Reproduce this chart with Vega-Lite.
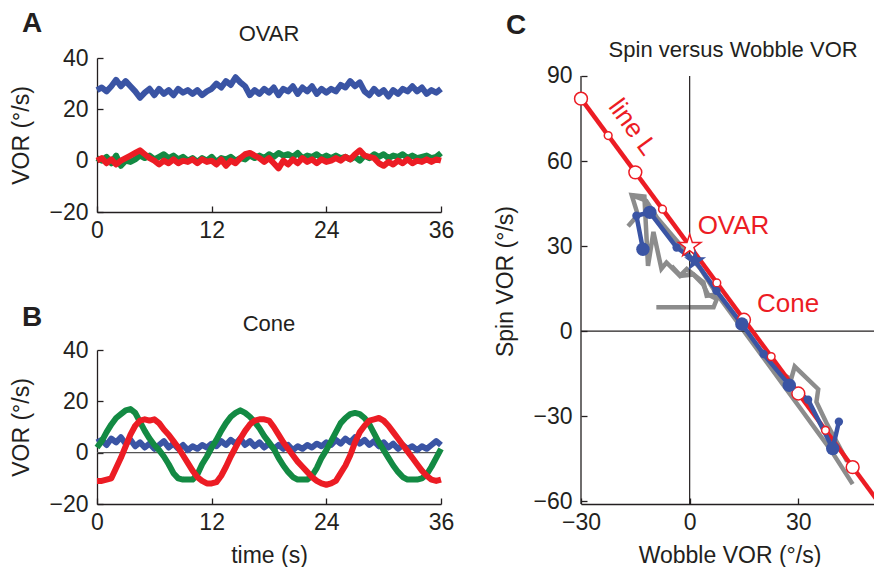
{
  "$schema": "https://vega.github.io/schema/vega-lite/v6.json",
  "padding": {"left": 10, "top": 10, "right": 0, "bottom": 0},
  "datasets": {
    "ovar": [
      {"t":0,"spin":27.5,"wobble1":1,"wobble2":0},{"t":0.5,"spin":28.5,"wobble1":0,"wobble2":1},{"t":1,"spin":27,"wobble1":1.5,"wobble2":-1},{"t":1.5,"spin":29,"wobble1":-1,"wobble2":0.5},
      {"t":2,"spin":31.5,"wobble1":2,"wobble2":-1.5},{"t":2.5,"spin":29,"wobble1":-2,"wobble2":0},{"t":3,"spin":31,"wobble1":0,"wobble2":1},{"t":3.5,"spin":29,"wobble1":-0.5,"wobble2":2},
      {"t":4,"spin":27,"wobble1":0.5,"wobble2":3},{"t":4.5,"spin":24.5,"wobble1":2,"wobble2":4},{"t":5,"spin":26.5,"wobble1":1,"wobble2":2.5},{"t":5.5,"spin":28,"wobble1":2,"wobble2":1},
      {"t":6,"spin":25.5,"wobble1":0.5,"wobble2":0},{"t":6.5,"spin":28,"wobble1":1.5,"wobble2":-1.5},{"t":7,"spin":26,"wobble1":2.5,"wobble2":0},{"t":7.5,"spin":27.5,"wobble1":1,"wobble2":-1},
      {"t":8,"spin":25.5,"wobble1":2,"wobble2":0.5},{"t":8.5,"spin":28,"wobble1":0.5,"wobble2":-1},{"t":9,"spin":26.5,"wobble1":1.5,"wobble2":0},{"t":9.5,"spin":27.5,"wobble1":0,"wobble2":-0.5},
      {"t":10,"spin":26,"wobble1":1,"wobble2":0.5},{"t":10.5,"spin":27.5,"wobble1":-0.5,"wobble2":-1},{"t":11,"spin":25.5,"wobble1":1,"wobble2":0.5},{"t":11.5,"spin":27,"wobble1":0,"wobble2":-0.5},
      {"t":12,"spin":28,"wobble1":1.5,"wobble2":0},{"t":12.5,"spin":30,"wobble1":-0.5,"wobble2":-1.5},{"t":13,"spin":28.5,"wobble1":1,"wobble2":0.5},{"t":13.5,"spin":31,"wobble1":0.5,"wobble2":-2},
      {"t":14,"spin":29.5,"wobble1":1.5,"wobble2":0},{"t":14.5,"spin":32.5,"wobble1":0,"wobble2":-1},{"t":15,"spin":30.5,"wobble1":1,"wobble2":1},{"t":15.5,"spin":29,"wobble1":0.5,"wobble2":2.5},
      {"t":16,"spin":25.5,"wobble1":2,"wobble2":3},{"t":16.5,"spin":27.5,"wobble1":1,"wobble2":2},{"t":17,"spin":26,"wobble1":2,"wobble2":1},{"t":17.5,"spin":28,"wobble1":1,"wobble2":-0.5},
      {"t":18,"spin":26.5,"wobble1":2.5,"wobble2":1},{"t":18.5,"spin":28.5,"wobble1":1.5,"wobble2":-1},{"t":19,"spin":25.5,"wobble1":3,"wobble2":-3},{"t":19.5,"spin":28,"wobble1":2,"wobble2":0},
      {"t":20,"spin":27,"wobble1":2.5,"wobble2":-1.5},{"t":20.5,"spin":29,"wobble1":1.5,"wobble2":0.5},{"t":21,"spin":26,"wobble1":3,"wobble2":-1},{"t":21.5,"spin":28.5,"wobble1":1,"wobble2":1},
      {"t":22,"spin":27,"wobble1":2,"wobble2":-0.5},{"t":22.5,"spin":29,"wobble1":1.5,"wobble2":0.5},{"t":23,"spin":26,"wobble1":2.5,"wobble2":-1},{"t":23.5,"spin":28,"wobble1":1,"wobble2":0.5},
      {"t":24,"spin":26.5,"wobble1":2,"wobble2":-0.5},{"t":24.5,"spin":28,"wobble1":1,"wobble2":0},{"t":25,"spin":27,"wobble1":2,"wobble2":1},{"t":25.5,"spin":29.5,"wobble1":1,"wobble2":0},
      {"t":26,"spin":28.5,"wobble1":1.5,"wobble2":1.5},{"t":26.5,"spin":31,"wobble1":0.5,"wobble2":0.5},{"t":27,"spin":29,"wobble1":1.5,"wobble2":2.5},{"t":27.5,"spin":30.5,"wobble1":0,"wobble2":4},
      {"t":28,"spin":27,"wobble1":2,"wobble2":2},{"t":28.5,"spin":25.5,"wobble1":1,"wobble2":1.5},{"t":29,"spin":28,"wobble1":2.5,"wobble2":1},{"t":29.5,"spin":26,"wobble1":1.5,"wobble2":-1},
      {"t":30,"spin":27.5,"wobble1":2.5,"wobble2":-2},{"t":30.5,"spin":25,"wobble1":1,"wobble2":-0.5},{"t":31,"spin":27.5,"wobble1":2,"wobble2":-1.5},{"t":31.5,"spin":26,"wobble1":1.5,"wobble2":0},
      {"t":32,"spin":28,"wobble1":2.5,"wobble2":-1},{"t":32.5,"spin":27,"wobble1":1,"wobble2":0.5},{"t":33,"spin":29,"wobble1":2,"wobble2":-1},{"t":33.5,"spin":27,"wobble1":1,"wobble2":0},
      {"t":34,"spin":28.5,"wobble1":1.5,"wobble2":-0.5},{"t":34.5,"spin":26,"wobble1":2,"wobble2":0.5},{"t":35,"spin":27.5,"wobble1":1,"wobble2":-0.5},{"t":35.5,"spin":26.5,"wobble1":1.5,"wobble2":0.5},
      {"t":36,"spin":28,"wobble1":3,"wobble2":0}
    ],
    "cone": [
      {"t":0,"spin":4,"wobble1":2,"wobble2":-11},{"t":0.5,"spin":5,"wobble1":4.5,"wobble2":-11},{"t":1,"spin":3,"wobble1":8,"wobble2":-10.5},{"t":1.5,"spin":5.5,"wobble1":11,"wobble2":-10},
      {"t":2,"spin":4,"wobble1":13.5,"wobble2":-6},{"t":2.5,"spin":6,"wobble1":15,"wobble2":-2},{"t":3,"spin":3.5,"wobble1":16.5,"wobble2":2.5},{"t":3.5,"spin":5,"wobble1":17,"wobble2":7},
      {"t":4,"spin":2.5,"wobble1":15.5,"wobble2":10.5},{"t":4.5,"spin":4,"wobble1":12,"wobble2":12.5},{"t":5,"spin":2,"wobble1":8.5,"wobble2":13},{"t":5.5,"spin":3.5,"wobble1":5.5,"wobble2":12.5},
      {"t":6,"spin":1.5,"wobble1":3,"wobble2":13},{"t":6.5,"spin":3,"wobble1":1,"wobble2":11.5},{"t":7,"spin":4.5,"wobble1":-1.5,"wobble2":9},{"t":7.5,"spin":2,"wobble1":-4.5,"wobble2":7},
      {"t":8,"spin":3.5,"wobble1":-8,"wobble2":4.5},{"t":8.5,"spin":1.5,"wobble1":-10,"wobble2":2},{"t":9,"spin":3,"wobble1":-10.5,"wobble2":-1},{"t":9.5,"spin":1,"wobble1":-10.5,"wobble2":-4},
      {"t":10,"spin":2.5,"wobble1":-10.5,"wobble2":-7},{"t":10.5,"spin":1.5,"wobble1":-8.5,"wobble2":-9.5},{"t":11,"spin":3,"wobble1":-4.5,"wobble2":-11},{"t":11.5,"spin":2,"wobble1":-1.5,"wobble2":-12},
      {"t":12,"spin":3.5,"wobble1":2,"wobble2":-12},{"t":12.5,"spin":2.5,"wobble1":5,"wobble2":-11.5},{"t":13,"spin":4.5,"wobble1":8.5,"wobble2":-9},{"t":13.5,"spin":3,"wobble1":11.5,"wobble2":-5.5},
      {"t":14,"spin":5,"wobble1":14,"wobble2":-1.5},{"t":14.5,"spin":3.5,"wobble1":15.5,"wobble2":2},{"t":15,"spin":5.5,"wobble1":16.5,"wobble2":5.5},{"t":15.5,"spin":3,"wobble1":15.5,"wobble2":8.5},
      {"t":16,"spin":4.5,"wobble1":14,"wobble2":11},{"t":16.5,"spin":2.5,"wobble1":12,"wobble2":12.5},{"t":17,"spin":4,"wobble1":9.5,"wobble2":13},{"t":17.5,"spin":2,"wobble1":6.5,"wobble2":13},
      {"t":18,"spin":3.5,"wobble1":4,"wobble2":12.5},{"t":18.5,"spin":1.5,"wobble1":1.5,"wobble2":10},{"t":19,"spin":3,"wobble1":-2,"wobble2":7},{"t":19.5,"spin":1.5,"wobble1":-5,"wobble2":4},
      {"t":20,"spin":3,"wobble1":-7.5,"wobble2":1.5},{"t":20.5,"spin":1,"wobble1":-9.5,"wobble2":-1},{"t":21,"spin":2.5,"wobble1":-10.5,"wobble2":-3.5},{"t":21.5,"spin":1.5,"wobble1":-10.5,"wobble2":-5.5},
      {"t":22,"spin":3,"wobble1":-10.5,"wobble2":-7.5},{"t":22.5,"spin":2,"wobble1":-9,"wobble2":-9.5},{"t":23,"spin":3.5,"wobble1":-6,"wobble2":-11},{"t":23.5,"spin":2.5,"wobble1":-2,"wobble2":-12},
      {"t":24,"spin":4,"wobble1":1,"wobble2":-12.5},{"t":24.5,"spin":3,"wobble1":4.5,"wobble2":-12},{"t":25,"spin":5,"wobble1":8,"wobble2":-11},{"t":25.5,"spin":3.5,"wobble1":11.5,"wobble2":-8},
      {"t":26,"spin":5.5,"wobble1":13.5,"wobble2":-5},{"t":26.5,"spin":4,"wobble1":15,"wobble2":-1},{"t":27,"spin":6,"wobble1":15.5,"wobble2":4},{"t":27.5,"spin":3.5,"wobble1":15,"wobble2":8},
      {"t":28,"spin":5,"wobble1":13.5,"wobble2":10.5},{"t":28.5,"spin":3,"wobble1":11,"wobble2":12.5},{"t":29,"spin":4.5,"wobble1":7.5,"wobble2":13},{"t":29.5,"spin":2.5,"wobble1":4,"wobble2":13.5},
      {"t":30,"spin":4,"wobble1":1,"wobble2":12.5},{"t":30.5,"spin":2,"wobble1":-2,"wobble2":10.5},{"t":31,"spin":3.5,"wobble1":-5,"wobble2":8},{"t":31.5,"spin":1.5,"wobble1":-7.5,"wobble2":5.5},
      {"t":32,"spin":3,"wobble1":-9.5,"wobble2":3},{"t":32.5,"spin":1.5,"wobble1":-10.5,"wobble2":0.5},{"t":33,"spin":2.5,"wobble1":-10.5,"wobble2":-2},{"t":33.5,"spin":1,"wobble1":-10.5,"wobble2":-4.5},
      {"t":34,"spin":2.5,"wobble1":-10,"wobble2":-7},{"t":34.5,"spin":1.5,"wobble1":-8.5,"wobble2":-9},{"t":35,"spin":3,"wobble1":-5.5,"wobble2":-10.5},{"t":35.5,"spin":4.5,"wobble1":-2,"wobble2":-11},
      {"t":36,"spin":3,"wobble1":1.5,"wobble2":-10.5}
    ],
    "lineL": [{"w":-30,"s":82},{"w":51.5,"s":-59.2}],
    "lineLpts": [
      {"w":-30,"s":82,"kind":"big"},{"w":-22.5,"s":69,"kind":"small"},{"w":-15,"s":56,"kind":"big"},{"w":-7.5,"s":43,"kind":"small"},
      {"w":7.5,"s":17,"kind":"small"},{"w":15,"s":4,"kind":"big"},{"w":22.5,"s":-9,"kind":"small"},{"w":30,"s":-22,"kind":"big"},
      {"w":37.5,"s":-35,"kind":"small"},{"w":45,"s":-48,"kind":"big"}
    ],
    "ovarPred": [{"w":0,"s":30}],
    "blueTraj": [
      {"i":1,"w":-12.9,"s":28.9,"kind":"big"},{"i":2,"w":-14.7,"s":40.7,"kind":"small"},{"i":3,"w":-11,"s":41.9,"kind":"big"},
      {"i":4,"w":-3.6,"s":29.5,"kind":"small"},{"i":5,"w":1.5,"s":24.8,"kind":"star"},{"i":6,"w":7.4,"s":14.2,"kind":"small"},
      {"i":7,"w":14.4,"s":2.5,"kind":"big"},{"i":8,"w":20.4,"s":-8.1,"kind":"small"},{"i":9,"w":27.5,"s":-19.1,"kind":"big"},
      {"i":10,"w":32.7,"s":-24.2,"kind":"small"},{"i":11,"w":39.5,"s":-41.4,"kind":"big"},{"i":12,"w":41.2,"s":-32,"kind":"small"}
    ],
    "gray": [
      {"trace":"g1","i":1,"w":-16,"s":48},{"trace":"g1","i":2,"w":-12,"s":46},{"trace":"g1","i":3,"w":-9,"s":40},{"trace":"g1","i":4,"w":-5,"s":34},
      {"trace":"g1","i":5,"w":-1,"s":28},{"trace":"g1","i":6,"w":3,"s":22},{"trace":"g1","i":7,"w":7,"s":14},{"trace":"g1","i":8,"w":11,"s":7},
      {"trace":"g1","i":9,"w":15,"s":0},{"trace":"g1","i":10,"w":19,"s":-7},{"trace":"g1","i":11,"w":23,"s":-14},{"trace":"g1","i":12,"w":27,"s":-21},
      {"trace":"g1","i":13,"w":31,"s":-28},{"trace":"g1","i":14,"w":35,"s":-35},{"trace":"g1","i":15,"w":39,"s":-42},{"trace":"g1","i":16,"w":42,"s":-48},
      {"trace":"g1","i":17,"w":45,"s":-54},
      {"trace":"g2","i":1,"w":24,"s":-14},{"trace":"g2","i":2,"w":28,"s":-17},{"trace":"g2","i":3,"w":29,"s":-12.5},{"trace":"g2","i":4,"w":35.5,"s":-20.5},
      {"trace":"g2","i":5,"w":35,"s":-25},{"trace":"g2","i":6,"w":38,"s":-33},{"trace":"g2","i":7,"w":41,"s":-40},{"trace":"g2","i":8,"w":43.5,"s":-46},
      {"trace":"g3","i":1,"w":-9.2,"s":8.4},{"trace":"g3","i":2,"w":6.6,"s":8.4},{"trace":"g3","i":3,"w":7.5,"s":11.3},{"trace":"g3","i":4,"w":5,"s":13},
      {"trace":"g3","i":5,"w":3.7,"s":16.5},{"trace":"g3","i":6,"w":1,"s":20},{"trace":"g3","i":7,"w":-2.5,"s":19.5},{"trace":"g3","i":8,"w":-5,"s":23},
      {"trace":"g4","i":1,"w":-17,"s":37},{"trace":"g4","i":2,"w":-14.3,"s":41},{"trace":"g4","i":3,"w":-16,"s":48},{"trace":"g4","i":4,"w":-12.5,"s":47.5},
      {"trace":"g4","i":5,"w":-11.5,"s":23},{"trace":"g4","i":6,"w":-10,"s":35},{"trace":"g4","i":7,"w":-7.8,"s":22},{"trace":"g4","i":8,"w":-6.4,"s":24.2},
      {"trace":"g4","i":9,"w":-2.7,"s":19.5},{"trace":"g4","i":10,"w":-0.8,"s":21.9},{"trace":"g4","i":11,"w":3.8,"s":17.2},{"trace":"g4","i":12,"w":4.7,"s":12.5},
      {"trace":"g4","i":13,"w":8,"s":13}
    ],
    "zero": [{"v":0}]
  },
  "spacing": 40,
  "hconcat": [
    {
      "spacing": 62,
      "vconcat": [
        {
          "width": 344, "height": 154,
          "layer": [
            {
              "data": {"name": "ovar"},
              "transform": [{"fold": ["spin", "wobble1", "wobble2"], "as": ["component", "vor"]}],
              "mark": {"type": "line", "strokeWidth": 6, "strokeJoin": "round"},
              "encoding": {
                "x": {"field": "t", "type": "quantitative", "title": null, "scale": {"domain": [0, 36], "nice": false, "zero": false}, "axis": {"values": [0, 12, 24, 36]}},
                "y": {"field": "vor", "type": "quantitative", "title": "VOR (°/s)", "scale": {"domain": [-20, 40], "nice": false, "zero": false}, "axis": {"values": [-20, 0, 20, 40]}},
                "color": {"field": "component", "type": "nominal", "scale": {"domain": ["spin", "wobble1", "wobble2"], "range": ["#3a54a4", "#138a43", "#ec1c24"]}, "legend": null}
              }
            },
            {"data": {"values": [{"label": "A"}]}, "mark": {"type": "text", "fontSize": 28, "fontWeight": "bold", "align": "left"},
             "encoding": {"x": {"datum": -7.85}, "y": {"datum": 50.1}, "text": {"field": "label"}}},
            {"data": {"values": [{"label": "OVAR"}]}, "mark": {"type": "text", "fontSize": 22, "align": "center"},
             "encoding": {"x": {"datum": 18}, "y": {"datum": 46.6}, "text": {"field": "label"}}}
          ]
        },
        {
          "width": 344, "height": 154,
          "layer": [
            {"data": {"name": "zero"}, "mark": {"type": "rule", "color": "#555555", "strokeWidth": 1.2},
             "encoding": {"y": {"field": "v", "type": "quantitative", "title": "VOR (°/s)", "scale": {"domain": [-20, 40], "nice": false, "zero": false}}}},
            {
              "data": {"name": "cone"},
              "transform": [{"fold": ["spin", "wobble1", "wobble2"], "as": ["component", "vor"]}],
              "mark": {"type": "line", "strokeWidth": 6, "strokeJoin": "round"},
              "encoding": {
                "x": {"field": "t", "type": "quantitative", "title": "time (s)", "scale": {"domain": [0, 36], "nice": false, "zero": false}, "axis": {"values": [0, 12, 24, 36]}},
                "y": {"field": "vor", "type": "quantitative", "title": "VOR (°/s)", "scale": {"domain": [-20, 40], "nice": false, "zero": false}, "axis": {"values": [-20, 0, 20, 40]}},
                "color": {"field": "component", "type": "nominal", "scale": {"domain": ["spin", "wobble1", "wobble2"], "range": ["#3a54a4", "#138a43", "#ec1c24"]}, "legend": null}
              }
            },
            {"data": {"values": [{"label": "B"}]}, "mark": {"type": "text", "fontSize": 28, "fontWeight": "bold", "align": "left"},
             "encoding": {"x": {"datum": -7.85}, "y": {"datum": 49.3}, "text": {"field": "label"}}},
            {"data": {"values": [{"label": "Cone"}]}, "mark": {"type": "text", "fontSize": 22, "align": "center"},
             "encoding": {"x": {"datum": 18}, "y": {"datum": 47.5}, "text": {"field": "label"}}}
          ]
        }
      ]
    },
    {
      "width": 297, "height": 446,
      "layer": [
        {"data": {"name": "gray"}, "mark": {"type": "line", "color": "#8c8c8c", "strokeWidth": 4.5, "strokeJoin": "miter"},
         "encoding": {
           "x": {"field": "w", "type": "quantitative", "title": "Wobble VOR (°/s)", "scale": {"domain": [-30, 52], "nice": false, "zero": false}, "axis": {"values": [-30, 0, 30]}},
           "y": {"field": "s", "type": "quantitative", "title": "Spin VOR (°/s)", "scale": {"domain": [-61, 96.35], "nice": false, "zero": false}, "axis": {"values": [-60, -30, 0, 30, 60, 90], "domain": false}},
           "detail": {"field": "trace", "type": "nominal"}, "order": {"field": "i", "type": "quantitative"}}},
        {"data": {"name": "zero"}, "mark": {"type": "rule", "color": "#231f20", "strokeWidth": 1.3},
         "encoding": {"x": {"datum": -30}, "y": {"datum": -61}, "y2": {"datum": 90}}},
        {"data": {"name": "zero"}, "mark": {"type": "rule", "color": "#231f20", "strokeWidth": 1.2},
         "encoding": {"x": {"datum": 0}, "y": {"datum": -61}, "y2": {"datum": 90}}},
        {"data": {"name": "zero"}, "mark": {"type": "rule", "color": "#231f20", "strokeWidth": 1.2},
         "encoding": {"y": {"field": "v", "type": "quantitative", "title": "Spin VOR (°/s)"}}},
        {"data": {"name": "lineL"}, "mark": {"type": "line", "color": "#ec1c24", "strokeWidth": 4.5},
         "encoding": {"x": {"field": "w", "type": "quantitative", "title": "Wobble VOR (°/s)"}, "y": {"field": "s", "type": "quantitative", "title": "Spin VOR (°/s)"}}},
        {"data": {"name": "blueTraj"}, "mark": {"type": "line", "color": "#3a54a4", "strokeWidth": 4.5},
         "encoding": {"x": {"field": "w", "type": "quantitative", "title": "Wobble VOR (°/s)"}, "y": {"field": "s", "type": "quantitative", "title": "Spin VOR (°/s)"}, "order": {"field": "i", "type": "quantitative"}}},
        {"data": {"name": "lineLpts"}, "transform": [{"filter": "datum.kind === 'big'"}], "mark": {"type": "circle", "size": 165, "fill": "white", "stroke": "#ec1c24", "strokeWidth": 1.5, "opacity": 1},
         "encoding": {"x": {"field": "w", "type": "quantitative", "title": "Wobble VOR (°/s)"}, "y": {"field": "s", "type": "quantitative", "title": "Spin VOR (°/s)"}}},
        {"data": {"name": "lineLpts"}, "transform": [{"filter": "datum.kind === 'small'"}], "mark": {"type": "circle", "size": 60, "fill": "white", "stroke": "#ec1c24", "strokeWidth": 1.5, "opacity": 1},
         "encoding": {"x": {"field": "w", "type": "quantitative", "title": "Wobble VOR (°/s)"}, "y": {"field": "s", "type": "quantitative", "title": "Spin VOR (°/s)"}}},
        {"data": {"name": "blueTraj"}, "transform": [{"filter": "datum.kind === 'big'"}], "mark": {"type": "circle", "size": 180, "color": "#3a54a4", "opacity": 1},
         "encoding": {"x": {"field": "w", "type": "quantitative", "title": "Wobble VOR (°/s)"}, "y": {"field": "s", "type": "quantitative", "title": "Spin VOR (°/s)"}}},
        {"data": {"name": "blueTraj"}, "transform": [{"filter": "datum.kind === 'small'"}], "mark": {"type": "circle", "size": 70, "color": "#3a54a4", "opacity": 1},
         "encoding": {"x": {"field": "w", "type": "quantitative", "title": "Wobble VOR (°/s)"}, "y": {"field": "s", "type": "quantitative", "title": "Spin VOR (°/s)"}}},
        {"data": {"name": "ovarPred"}, "mark": {"type": "point", "shape": "M0,-1L0.225,-0.309L0.951,-0.309L0.363,0.118L0.588,0.809L0,0.382L-0.588,0.809L-0.363,0.118L-0.951,-0.309L-0.225,-0.309Z", "size": 560, "filled": true, "fill": "white", "stroke": "#ec1c24", "strokeWidth": 1.5, "opacity": 1},
         "encoding": {"x": {"field": "w", "type": "quantitative", "title": "Wobble VOR (°/s)"}, "y": {"field": "s", "type": "quantitative", "title": "Spin VOR (°/s)"}}},
        {"data": {"name": "blueTraj"}, "transform": [{"filter": "datum.kind === 'star'"}], "mark": {"type": "point", "shape": "M0,-1L0.225,-0.309L0.951,-0.309L0.363,0.118L0.588,0.809L0,0.382L-0.588,0.809L-0.363,0.118L-0.951,-0.309L-0.225,-0.309Z", "size": 540, "filled": true, "color": "#3a54a4", "opacity": 1},
         "encoding": {"x": {"field": "w", "type": "quantitative", "title": "Wobble VOR (°/s)"}, "y": {"field": "s", "type": "quantitative", "title": "Spin VOR (°/s)"}}},
        {"data": {"values": [{"label": "C"}]}, "mark": {"type": "text", "fontSize": 28, "fontWeight": "bold", "align": "left"},
         "encoding": {"x": {"datum": -50.7}, "y": {"datum": 104.8}, "text": {"field": "label"}}},
        {"data": {"values": [{"label": "Spin versus Wobble VOR"}]}, "mark": {"type": "text", "fontSize": 22, "align": "center"},
         "encoding": {"x": {"datum": 12}, "y": {"datum": 96.6}, "text": {"field": "label"}}},
        {"data": {"values": [{"label": "line L"}]}, "mark": {"type": "text", "fontSize": 26, "align": "center", "baseline": "middle", "angle": 54, "color": "#ec1c24"},
         "encoding": {"x": {"datum": -15.8}, "y": {"datum": 71.9}, "text": {"field": "label"}}},
        {"data": {"values": [{"label": "OVAR"}]}, "mark": {"type": "text", "fontSize": 26, "align": "left", "color": "#ec1c24"},
         "encoding": {"x": {"datum": 2.2}, "y": {"datum": 34.2}, "text": {"field": "label"}}},
        {"data": {"values": [{"label": "Cone"}]}, "mark": {"type": "text", "fontSize": 26, "align": "left", "color": "#ec1c24"},
         "encoding": {"x": {"datum": 18.6}, "y": {"datum": 6.9}, "text": {"field": "label"}}}
      ]
    }
  ],
  "config": {
    "font": "Liberation Sans",
    "view": {"stroke": null},
    "axis": {
      "grid": false, "domainColor": "#231f20", "domainWidth": 1.3, "tickColor": "#231f20", "tickWidth": 1.3, "tickSize": -6,
      "labelFont": "Liberation Sans", "labelFontSize": 23, "labelColor": "#231f20", "labelFlush": false, "labelOverlap": false,
      "titleFont": "Liberation Sans", "titleFontSize": 23, "titleFontWeight": "normal", "titleColor": "#231f20"
    },
    "axisX": {"labelPadding": 13, "titlePadding": 10},
    "axisY": {"labelPadding": 15, "titlePadding": 15},
    "text": {"font": "Liberation Sans", "color": "#231f20", "baseline": "alphabetic"}
  }
}
